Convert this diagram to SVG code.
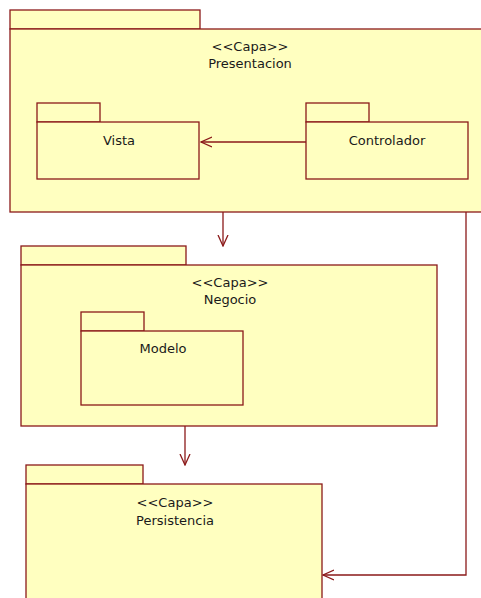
<svg xmlns="http://www.w3.org/2000/svg" width="481" height="598" viewBox="0 0 481 598">
<defs>
<style>
.pk{fill:#ffffc0;stroke:#8b1a1a;stroke-width:1.3}
.t{font-family:"DejaVu Sans",sans-serif;font-size:13px;fill:#1a1a1a;text-anchor:middle}
.c{fill:none;stroke:#8b1a1a;stroke-width:1.3}
</style>
<marker id="open" viewBox="0 0 12 12" refX="11" refY="6" markerWidth="12" markerHeight="12" markerUnits="userSpaceOnUse" orient="auto">
<path d="M0,1 L11,6 L0,11" fill="none" stroke="#8b1a1a" stroke-width="1.3"/>
</marker>
</defs>
<rect width="481" height="598" fill="#fff"/>
<g id="presentacion">
<rect class="pk" x="10" y="10" width="190" height="19"/>
<rect class="pk" x="10" y="29" width="480" height="183"/>
<text class="t" x="250" y="51">&lt;&lt;Capa&gt;&gt;</text>
<text class="t" x="250" y="68">Presentacion</text>
</g>
<g id="vista">
<rect class="pk" x="37" y="103" width="63" height="19"/>
<rect class="pk" x="37" y="122" width="162" height="57"/>
<text class="t" x="119" y="145">Vista</text>
</g>
<g id="controlador">
<rect class="pk" x="306" y="103" width="63" height="19"/>
<rect class="pk" x="306" y="122" width="162" height="57"/>
<text class="t" x="387" y="145">Controlador</text>
</g>
<g id="negocio">
<rect class="pk" x="21" y="246" width="165" height="19"/>
<rect class="pk" x="21" y="265" width="416" height="161"/>
<text class="t" x="230" y="287">&lt;&lt;Capa&gt;&gt;</text>
<text class="t" x="230" y="304">Negocio</text>
</g>
<g id="modelo">
<rect class="pk" x="81" y="312" width="63" height="19"/>
<rect class="pk" x="81" y="331" width="162" height="74"/>
<text class="t" x="163" y="353">Modelo</text>
</g>
<g id="persistencia">
<rect class="pk" x="26" y="465" width="117" height="19"/>
<rect class="pk" x="26" y="484" width="296" height="130"/>
<text class="t" x="175" y="507">&lt;&lt;Capa&gt;&gt;</text>
<text class="t" x="175" y="525">Persistencia</text>
</g>
<g id="connectors">
<path class="c" d="M306,142 H201" marker-end="url(#open)"/>
<path class="c" d="M223,212 V246" marker-end="url(#open)"/>
<path class="c" d="M185,426 V465" marker-end="url(#open)"/>
<path class="c" d="M466,212 V575 H323" marker-end="url(#open)"/>
</g>
</svg>
